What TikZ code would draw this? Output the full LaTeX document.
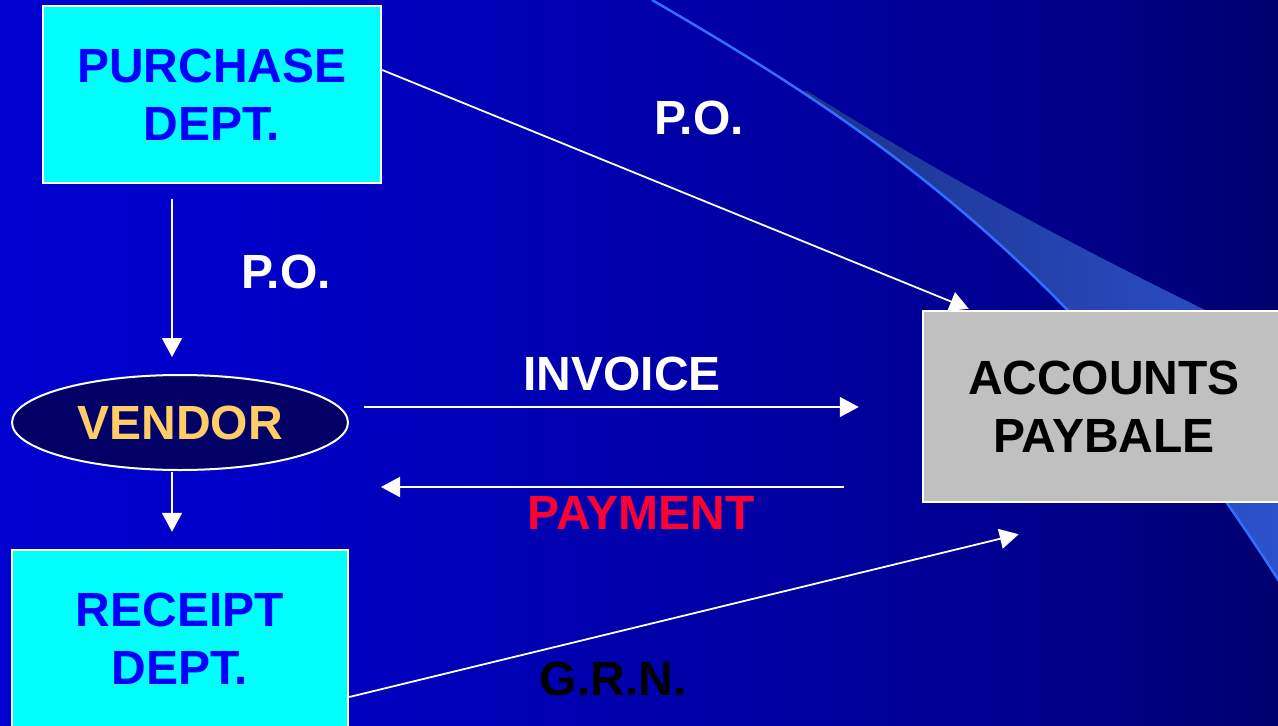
\documentclass[tikz,border=0pt]{standalone}
\usepackage{fontspec}
\setmainfont{Liberation Sans}
\usetikzlibrary{arrows.meta,shapes.geometric,calc}
\definecolor{cyanbox}{RGB}{0,255,255}
\definecolor{boxtext}{RGB}{0,0,255}
\definecolor{vendorfill}{RGB}{0,0,102}
\definecolor{vendortext}{RGB}{255,204,102}
\definecolor{apfill}{RGB}{192,192,192}
\definecolor{payred}{RGB}{255,0,51}
\definecolor{wedgeL}{RGB}{22,36,115}
\definecolor{wedgeR}{RGB}{45,85,210}
\definecolor{swoosh}{RGB}{50,110,255}
\pgfdeclarehorizontalshading{bgshade}{100bp}{rgb(0bp)=(0,0,0.9); rgb(35bp)=(0,0,0.78); rgb(63bp)=(0,0,0.58); rgb(86bp)=(0,0,0.31); rgb(100bp)=(0,0,0.18)}
\tikzset{
  bigfont/.style={font=\fontsize{48}{58}\selectfont\bfseries},
  box/.style={draw=white, line width=2.5pt, inner sep=0pt, align=center, bigfont},
  lbl/.style={inner sep=0pt, align=center, bigfont},
  arr/.style={draw=white, line width=1.8pt, -{Triangle[length=19pt,width=20pt]}}
}
\begin{document}
\begin{tikzpicture}[x=1pt,y=-1pt]
\useasboundingbox (0,0) rectangle (1278,726);
\shade[shading=bgshade] (0,0) rectangle (1278,726);
% decorative swoosh
\begin{scope}
  \clip (652,0) .. controls (862,122) and (1090,268.5) .. (1300,615)
    -- (1330,660) -- (1330,-10) -- (652,-10) -- cycle;
  \shade[left color=wedgeL, right color=wedgeR]
    (807,91) .. controls (950,180) and (1100,262) .. (1320,365)
    -- (1330,726) -- (600,726) -- (600,91) -- cycle;
\end{scope}
\draw[swoosh, line width=2.5pt]
  (652,0) .. controls (862,122) and (1090,268.5) .. (1300,615);

% nodes
\node[box, fill=cyanbox, text=boxtext, minimum width=338pt, minimum height=177pt]
  (purchase) at (212,94.5) {PURCHASE\\DEPT.};
\node[draw=white, line width=2pt, fill=vendorfill, ellipse, inner sep=0pt,
  minimum width=336pt, minimum height=95pt, bigfont, text=vendortext]
  (vendor) at (180,422.5) {VENDOR};
\node[box, fill=cyanbox, text=boxtext, minimum width=336pt, minimum height=178pt]
  (receipt) at (180,639) {RECEIPT\\DEPT.};
\node[box, fill=apfill, text=black, minimum width=362pt, minimum height=191pt]
  (ap) at (1104,406.5) {ACCOUNTS\\PAYBALE};

% labels
\node[lbl, text=white] (po2) at (699,118) {P.O.};
\node[lbl, text=white] (po1) at (286,272) {P.O.};
\node[lbl, text=white] (invoice) at (622,374) {INVOICE};
\node[lbl, text=payred] (payment) at (641,513) {PAYMENT};
\node[lbl, text=black] (grn) at (613,679) {G.R.N.};

% connectors
\draw[arr, shorten <=15pt, shorten >=17pt] ([xshift=-40pt]purchase.south) -- ([xshift=-8pt]vendor.north);
\draw[arr, shorten <=1pt, shorten >=17pt] ([xshift=-8pt]vendor.south) -- ([xshift=-8pt]receipt.north);
\draw[arr] ($(purchase.east)+(0,-24.5)$) -- ($(ap.north west)+(47,-1)$);
\draw[arr] ($(vendor.east)+(15,-15.5)$) -- ($(ap.west)+(-63,0.5)$);
\draw[arr] ($(ap.west)+(-78,80.5)$) -- ($(vendor.east)+(32,64.5)$);
\draw[arr] ($(receipt.east)+(0,58)$) -- ($(ap.south west)+(97,31)$);
\end{tikzpicture}
\end{document}
